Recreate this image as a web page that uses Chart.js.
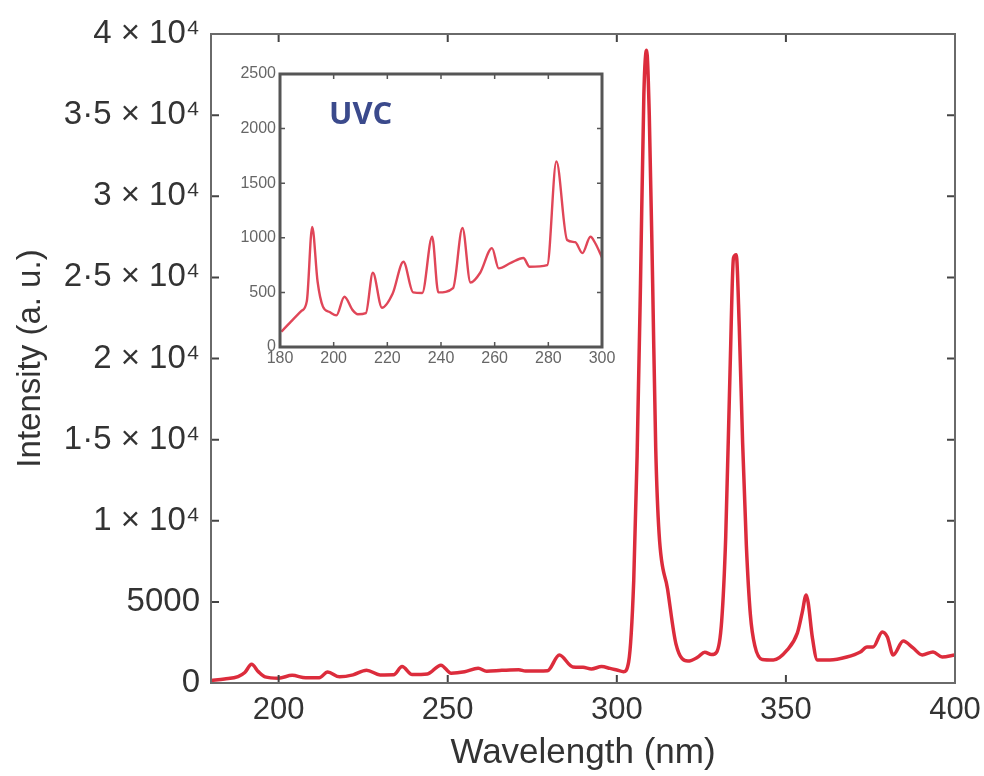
<!DOCTYPE html>
<html>
<head>
<meta charset="utf-8">
<title>UV emission spectrum</title>
<script src="https://cdn.jsdelivr.net/npm/chart.js@4.4.1/dist/chart.umd.min.js"></script>
<style>
    html, body { margin: 0; padding: 0; background: #fff; }
    #wrap { position: relative; width: 984px; height: 776px; }
    #main-chart { position: absolute; left: 0; top: 0; }
    #inset-chart { position: absolute; left: 220px; top: 58px; }
    #uvc-label {
        position: absolute; left: 329px; top: 91px;
        font: bold 31px 'Open Sans', 'Liberation Sans', sans-serif;
        color: #3b4a8c;
    }
</style>
</head>
<body>
<div id="wrap">
    <canvas id="main-chart" width="984" height="776"></canvas>
    <canvas id="inset-chart" width="395" height="312"></canvas>
    <div id="uvc-label">UVC</div>
</div>
<script>
const mainCtx = document.getElementById('main-chart').getContext('2d');
const insetCtx = document.getElementById('inset-chart').getContext('2d');

// full spectrum (nm, a.u.)
const wavelength = [180, 184, 188, 190, 192, 194, 196, 200, 204, 208, 212, 214.5, 218, 222, 226, 230, 234, 236.5,
    239.5, 244, 248, 251, 255, 259, 261.5, 266, 271, 273, 279.5, 283, 287, 290, 292.5, 295.5, 298, 300, 302,
    303.5, 305, 306, 307, 308, 308.8, 309.6, 310.6, 311.5, 312.5, 315, 317.5, 321, 324, 326, 328, 329.5, 331,
    332.2, 333.5, 334.5, 335.3, 336.2, 337.2, 338.3, 339.5, 340.8, 343, 346.3, 350.4, 353.4, 354.8, 356, 356.6, 357.8,
    359.3, 363, 368, 372, 374, 375.8, 378.5, 380, 381.7, 384.7, 387.6, 390.3, 393.5, 396.2, 400];
const intensity = [150, 250, 400, 650, 1150, 700, 380, 300, 470, 320, 320, 680, 380, 500, 790, 500, 510, 1010,
    520, 560, 1100, 600, 690, 910, 730, 780, 820, 740, 760, 1720, 990, 970, 870, 1010, 900, 800, 700,
    1300, 6300, 14000, 24600, 36300, 39000, 35000, 24600, 14500, 9200, 5800, 2400, 1350, 1600, 1900, 1750, 1900, 3800,
    9000, 19400, 26200, 26400, 22000, 14800, 8500, 4200, 2300, 1450, 1420, 2040, 3090, 4320, 5430, 4940, 2840,
    1420, 1420, 1600, 1910, 2220, 2220, 3150, 2840, 1730, 2590, 2160, 1730, 1910, 1600, 1730];
const xTicks = [200, 250, 300, 350, 400];
const yTicks = [0, 5000, 10000, 15000, 20000, 25000, 30000, 35000, 40000];

// inset: UVC part of the spectrum
const uvcWavelength = [180.5, 184, 188, 190, 192, 194, 196, 198.5, 201, 204, 207, 209, 212, 214.6, 218, 222, 226,
    229.6, 233, 236.7, 239, 244.5, 248, 251, 254.6, 259, 261.5, 266, 270.7, 273, 279.6, 283, 287, 290, 292.7,
    295.7, 297.5, 300];
const uvcIntensity = [140, 230, 330, 420, 1100, 600, 370, 320, 290, 460, 340, 300, 310, 680, 360, 490, 780,
    500, 495, 1010, 500, 540, 1090, 590, 680, 905, 720, 770, 815, 735, 750, 1700, 980, 960, 860,
    1010, 950, 820];
const uvcXTicks = [180, 200, 220, 240, 260, 280, 300];
const uvcYTicks = [0, 500, 1000, 1500, 2000, 2500];

function toPoints(xs, ys) {
    return xs.map((v, i) => ({ x: v, y: ys[i] }));
}

function yLabel(v) {
    if (v === 0 || v === 5000) return String(v);
    return String(v / 10000).replace('.', '·') + ' × 10⁴';
}

// box round the plot area, ticks pointing inwards on all four sides
const frameTicks = {
    id: 'frameTicks',
    afterDraw(chart, args, opts) {
        const { ctx, chartArea: a, scales: { x, y } } = chart;
        ctx.save();
        ctx.strokeStyle = opts.tickColor;
        ctx.lineWidth = opts.tickWidth;
        ctx.beginPath();
        x.ticks.forEach(t => {
            const px = x.getPixelForValue(t.value);
            ctx.moveTo(px, a.bottom); ctx.lineTo(px, a.bottom - opts.len);
            ctx.moveTo(px, a.top); ctx.lineTo(px, a.top + opts.len);
        });
        y.ticks.forEach(t => {
            const py = y.getPixelForValue(t.value);
            ctx.moveTo(a.left, py); ctx.lineTo(a.left + opts.len, py);
            ctx.moveTo(a.right, py); ctx.lineTo(a.right - opts.len, py);
        });
        ctx.stroke();
        ctx.strokeStyle = opts.color;
        ctx.lineWidth = opts.width;
        ctx.strokeRect(a.left, a.top, a.right - a.left, a.bottom - a.top);
        ctx.restore();
    }
};

var mainChart = new Chart(mainCtx, {
    type: 'line',
    data: {
        datasets: [{
            data: toPoints(wavelength, intensity),
            borderColor: '#dc2c3c',
            borderWidth: 3.5,
            pointRadius: 0,
            cubicInterpolationMode: 'monotone'
        }]
    },
    options: {
        responsive: false,
        animation: false,
        layout: { padding: { top: 34, right: 29, left: 0, bottom: 0 } },
        plugins: {
            legend: { display: false },
            tooltip: { enabled: false },
            frameTicks: { color: '#6a6a6a', width: 2, tickColor: '#444', tickWidth: 2, len: 8 }
        },
        scales: {
            x: {
                type: 'linear',
                min: 180,
                max: 400,
                afterBuildTicks: s => { s.ticks = xTicks.map(v => ({ value: v })); },
                afterFit: s => { s.height = 93; s.paddingLeft = 0; s.paddingRight = 0; },
                grid: { display: false, drawTicks: false },
                border: { display: false },
                ticks: { color: '#333', padding: 9, font: { family: "'Liberation Sans', Arial", size: 31 } },
                title: {
                    display: true,
                    text: 'Wavelength (nm)',
                    color: '#333',
                    padding: { top: 0, bottom: 2 },
                    font: { family: "'Liberation Sans', Arial", size: 35 }
                }
            },
            y: {
                type: 'linear',
                min: 0,
                max: 40000,
                afterBuildTicks: s => { s.ticks = yTicks.map(v => ({ value: v })); },
                afterFit: s => { s.width = 211; s.paddingTop = 0; s.paddingBottom = 0; },
                grid: { display: false, drawTicks: false },
                border: { display: false },
                ticks: { color: '#333', padding: 11, callback: yLabel, font: { family: "'Liberation Sans', Arial", size: 33 } },
                title: {
                    display: true,
                    text: 'Intensity (a. u.)',
                    color: '#333',
                    padding: { top: 11, bottom: 0 },
                    font: { family: "'Liberation Sans', Arial", size: 33 }
                }
            }
        }
    },
    plugins: [frameTicks]
});

var insetChart = new Chart(insetCtx, {
    type: 'line',
    data: {
        datasets: [{
            data: toPoints(uvcWavelength, uvcIntensity),
            borderColor: '#e04658',
            borderWidth: 2.4,
            pointRadius: 0,
            cubicInterpolationMode: 'monotone'
        }]
    },
    options: {
        responsive: false,
        animation: false,
        layout: { padding: { top: 16, right: 13, left: 0, bottom: 0 } },
        plugins: {
            legend: { display: false },
            tooltip: { enabled: false },
            frameTicks: { color: '#555', width: 3, tickColor: '#555', tickWidth: 1.5, len: 5 }
        },
        scales: {
            x: {
                type: 'linear',
                min: 180,
                max: 300,
                afterBuildTicks: s => { s.ticks = uvcXTicks.map(v => ({ value: v })); },
                afterFit: s => { s.height = 23; s.paddingLeft = 0; s.paddingRight = 0; },
                grid: { display: false, drawTicks: false },
                border: { display: false },
                ticks: { color: '#666', padding: 2, callback: v => String(v), font: { family: "'Liberation Sans', Arial", size: 16 } }
            },
            y: {
                type: 'linear',
                min: 0,
                max: 2500,
                afterBuildTicks: s => { s.ticks = uvcYTicks.map(v => ({ value: v })); },
                afterFit: s => { s.width = 60; s.paddingTop = 0; s.paddingBottom = 0; },
                grid: { display: false, drawTicks: false },
                border: { display: false },
                ticks: { color: '#666', padding: 4, callback: v => String(v), font: { family: "'Liberation Sans', Arial", size: 16 } }
            }
        }
    },
    plugins: [frameTicks]
});
</script>
</body>
</html>
